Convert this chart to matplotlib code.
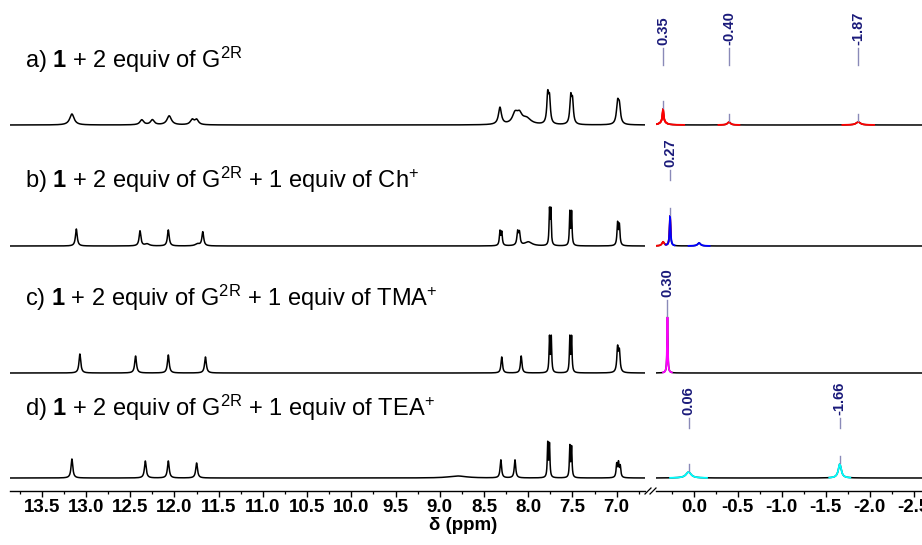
import numpy as np
import matplotlib
matplotlib.use('Agg')
import matplotlib.pyplot as plt
from matplotlib.ticker import MultipleLocator, FormatStrFormatter
from matplotlib.lines import Line2D

plt.rcParams['font.family'] = ['Liberation Sans', 'DejaVu Sans']
plt.rcParams['mathtext.fontset'] = 'custom'
plt.rcParams['mathtext.rm'] = 'Liberation Sans'
plt.rcParams['mathtext.bf'] = 'Liberation Sans:bold'
plt.rcParams['mathtext.it'] = 'Liberation Sans:italic'
plt.rcParams['axes.unicode_minus'] = False

# ---------------- data ----------------
labels = [r"a) $\mathbf{1}$ + 2 equiv of G$^{\mathrm{2R}}$",
          r"b) $\mathbf{1}$ + 2 equiv of G$^{\mathrm{2R}}$ + 1 equiv of Ch$^{+}$",
          r"c) $\mathbf{1}$ + 2 equiv of G$^{\mathrm{2R}}$ + 1 equiv of TMA$^{+}$",
          r"d) $\mathbf{1}$ + 2 equiv of G$^{\mathrm{2R}}$ + 1 equiv of TEA$^{+}$"]

# left region (13.9 - 6.7 ppm): position, intensity, half-width
a_left_ppm = [13.16, 12.37, 12.25, 12.06, 11.80, 11.75, 8.32, 8.15, 8.10, 8.02, 7.78, 7.76, 7.52, 7.50, 6.99, 6.97]
a_left_int = [11, 5, 5, 9, 5, 5, 17, 10, 9, 6, 28, 24, 26, 22, 20, 17]
a_left_wid = [0.03, 0.025, 0.025, 0.03, 0.025, 0.025, 0.02, 0.035, 0.035, 0.06, 0.012, 0.012, 0.012, 0.012, 0.015, 0.015]

b_left_ppm = [13.11, 12.39, 12.31, 12.07, 11.74, 11.68, 8.32, 8.30, 8.12, 8.10, 8.00, 7.76, 7.745, 7.53, 7.51, 6.99, 6.97]
b_left_int = [17, 15, 2, 16, 2, 14, 14, 13, 13, 12, 4, 34, 34, 33, 33, 22, 20]
b_left_wid = [0.012, 0.012, 0.03, 0.012, 0.03, 0.012, 0.008, 0.008, 0.01, 0.01, 0.05, 0.006, 0.006, 0.006, 0.006, 0.008, 0.008]

c_left_ppm = [13.07, 12.44, 12.07, 11.65, 8.30, 8.08, 7.76, 7.74, 7.53, 7.51, 6.99, 6.97]
c_left_int = [19, 17, 18, 16, 16, 17, 35, 35, 35, 35, 24, 20]
c_left_wid = [0.012, 0.012, 0.012, 0.012, 0.01, 0.01, 0.006, 0.006, 0.006, 0.006, 0.01, 0.01]

d_left_ppm = [13.16, 12.33, 12.07, 11.75, 8.80, 8.31, 8.15, 7.78, 7.76, 7.53, 7.51, 7.00, 6.98, 6.96]
d_left_int = [19, 17, 17, 15, 2, 18, 18, 34, 33, 31, 30, 13, 14, 11]
d_left_wid = [0.012, 0.012, 0.012, 0.012, 0.12, 0.01, 0.01, 0.006, 0.006, 0.006, 0.006, 0.008, 0.008, 0.008]

# right region (0.45 - -2.55 ppm)
a_right_ppm = [0.35, 0.35, -0.40, -1.87]
a_right_int = [13, 3, 3, 3]
a_right_wid = [0.008, 0.04, 0.02, 0.03]
a_right_col = ['red', 'red', 'red', 'red']

b_right_ppm = [0.35, 0.27, -0.06]
b_right_int = [4, 30, 3]
b_right_wid = [0.015, 0.007, 0.02]
b_right_col = ['red', 'blue', 'blue']

c_right_ppm = [0.30]
c_right_int = [56]
c_right_wid = [0.005]
c_right_col = ['magenta']

d_right_ppm = [0.06, -1.66]
d_right_int = [6, 14]
d_right_wid = [0.035, 0.02]
d_right_col = ['cyan', 'cyan']

# annotated peaks
annot_ppm = [[0.35, -0.40, -1.87], [0.27], [0.30], [0.06, -1.66]]
annot_txt = [['0.35', '-0.40', '-1.87'], ['0.27'], ['0.30'], ['0.06', '-1.66']]

left_ticks = [13.5, 13.0, 12.5, 12.0, 11.5, 11.0, 10.5, 10.0, 9.5, 9.0, 8.5, 8.0, 7.5, 7.0]
right_ticks = [0.0, -0.5, -1.0, -1.5, -2.0, -2.5]

# ---------------- layout ----------------
W, H = 922, 545
fig = plt.figure(figsize=(W / 100, H / 100), dpi=100)

axis_y = 491          # pixel row of x axis (from top)
def fx(px): return px / W
def fy(py): return 1 - py / H

axL = fig.add_axes([fx(10), fy(axis_y), fx(645 - 10), fy(0) - fy(axis_y)])
axR = fig.add_axes([fx(656), fy(axis_y), fx(W - 656), fy(0) - fy(axis_y)])
axL.set_xlim(13.86, 6.68)
axR.set_xlim(0.43, -2.595)
for ax in (axL, axR):
    ax.set_ylim(0, axis_y)
    for s in ('top', 'right', 'left'):
        ax.spines[s].set_visible(False)
    ax.spines['bottom'].set_linewidth(1.0)
    ax.set_yticks([])
    ax.xaxis.set_major_formatter(FormatStrFormatter('%.1f'))
    ax.xaxis.set_minor_locator(MultipleLocator(0.25))
    ax.tick_params(axis='x', which='major', direction='out', length=4, width=1.0,
                   pad=2, labelsize=13.5)
    ax.tick_params(axis='x', which='minor', direction='out', length=2.2, width=0.9)
    ax.patch.set_alpha(0)
axL.set_xticks(left_ticks)
axR.set_xticks(right_ticks)
for ax in (axL, axR):
    for t in ax.get_xticklabels():
        t.set_fontweight('bold')

baselines_px = [125, 246, 373, 478]   # pixel rows of spectrum baselines
offsets = [axis_y - b for b in baselines_px]

def spectrum(x, ppm, inten, wid):
    y = np.zeros_like(x)
    for p, h, w in zip(ppm, inten, wid):
        y += h / (1 + ((x - p) / w) ** 2)
    return y

xl = np.linspace(13.86, 6.68, 6000)
xr = np.linspace(0.43, -2.6, 4000)

left_sets = [(a_left_ppm, a_left_int, a_left_wid), (b_left_ppm, b_left_int, b_left_wid),
             (c_left_ppm, c_left_int, c_left_wid), (d_left_ppm, d_left_int, d_left_wid)]
right_sets = [(a_right_ppm, a_right_int, a_right_wid, a_right_col),
              (b_right_ppm, b_right_int, b_right_wid, b_right_col),
              (c_right_ppm, c_right_int, c_right_wid, c_right_col),
              (d_right_ppm, d_right_int, d_right_wid, d_right_col)]

label_base_px = [68, 188, 306, 416]
annot_line_px = [(48, 65), (170, 180), (300, 316), (418, 428)]
navy = '#1a1a7a'
linec = '#8a8ab8'

for i in range(4):
    off = offsets[i]
    yl = spectrum(xl, *left_sets[i]) + off
    axL.plot(xl, yl, color='black', lw=1.1, solid_joinstyle='round')
    rp, ri, rw, rc = right_sets[i]
    yr = spectrum(xr, rp, ri, rw) + off
    axR.plot(xr, yr, color='black', lw=1.1)
    for p, w, c in zip(rp, rw, rc):
        span = max(6 * w, 0.05)
        m = np.abs(xr - p) < span
        axR.plot(xr[m], yr[m], color=c, lw=1.3)
    fig.text(fx(25), fy(label_base_px[i]), labels[i], fontsize=17, va='baseline', ha='left')
    # annotations
    ltop, lbot = annot_line_px[i]
    for p, t in zip(annot_ppm[i], annot_txt[i]):
        ypk = spectrum(np.array([p]), rp, ri, rw)[0] + off
        axR.plot([p, p], [axis_y - lbot, axis_y - ltop], color=linec, lw=1.0)
        if ypk + 2 < axis_y - lbot - 2:
            axR.plot([p, p], [ypk + 1, min(ypk + 8, axis_y - lbot)], color=linec, lw=1.0)
        axR.text(p, axis_y - ltop + 3, t, rotation=90, ha='center', va='bottom',
                 fontsize=10.5, fontweight='bold', color=navy)

# axis break marks
for dx in (0, 5):
    fig.add_artist(Line2D([fx(645 + dx), fx(651 + dx)], [fy(494), fy(488)],
                          color='black', lw=0.9))

fig.text(fx(463), fy(525), r'δ (ppm)', ha='center', va='center', fontsize=13.5,
         fontweight='bold')

fig.savefig('out.png', dpi=100)
